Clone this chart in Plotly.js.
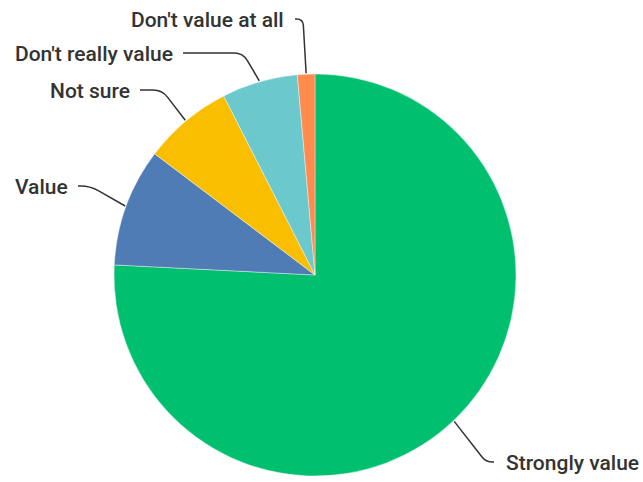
<!DOCTYPE html>
<html>
<head>
<meta charset="utf-8">
<script src="https://cdn.plot.ly/plotly-3.0.1.min.js"></script>
<style>html,body{margin:0;padding:0;background:#fff;}#chart{width:643px;height:482px;}</style>
</head>
<body>
<div id="chart"></div>
<script>
// ---- data ----
const labels = ["Strongly value", "Value", "Not sure", "Don't really value", "Don't value at all"];
const values = [75.8, 9.5, 7.2, 6.1, 1.4];

// ---- styles / layout ----
const sliceColors = ["#00BF6F", "#507CB6", "#F9BE00", "#6BC8CD", "#FF8B4F"];
const W = 643, H = 482;
const CX = 315, CY = 275, R = 201;
// label anchor (end of leader line, px) and length of the horizontal stub (px)
const leaderEnd = [[494, 462], [78, 186], [140, 90], [183, 53], [295, 19]];
const leaderStub = [8, 12, 22, 60, 8];
const textGap = [10, 8, 8, 8, 9];
const fontSpec = {family: "Roboto, 'Liberation Sans', sans-serif", size: 21, color: "#333333", weight: 500};

const trace = {
  type: "pie",
  labels: labels,
  values: values,
  sort: false,
  direction: "clockwise",
  rotation: 0,
  textinfo: "none",
  hoverinfo: "label+percent",
  showlegend: false,
  marker: {colors: sliceColors, line: {color: "#ffffff", width: 0.4}},
  domain: {x: [(CX - R) / W, (CX + R) / W], y: [1 - (CY + R) / H, 1 - (CY - R) / H]}
};

const layout = {
  width: W, height: H,
  margin: {l: 0, r: 0, t: 0, b: 0},
  paper_bgcolor: "#ffffff",
  showlegend: false
};

const px = x => x / W;
const py = y => 1 - y / H;

Plotly.newPlot("chart", [trace], layout, {displayModeBar: false, staticPlot: true}).then(gd => {
  let cx = CX, cy = CY, r = R;
  try {
    const cd0 = gd.calcdata[0][0];
    if (isFinite(cd0.cx) && isFinite(cd0.cy) && isFinite(cd0.r)) { cx = cd0.cx; cy = cd0.cy; r = cd0.r; }
  } catch (e) {}
  const total = values.reduce((a, b) => a + b, 0);
  let acc = 0;
  const shapes = [], annotations = [];
  values.forEach((v, i) => {
    const mid = (acc + v / 2) / total * 2 * Math.PI;
    acc += v;
    const dx = Math.sin(mid), dy = -Math.cos(mid);
    const ex = cx + dx * (r + 1), ey = cy + dy * (r + 1);
    const endx = leaderEnd[i][0], endy = leaderEnd[i][1];
    const side = endx >= ex ? 1 : -1;
    const elx = endx - side * leaderStub[i], ely = endy;
    // rounded corner
    const segLen = Math.hypot(elx - ex, ely - ey);
    const c = Math.min(9, segLen * 0.4, leaderStub[i] * 0.8);
    const ux = (elx - ex) / segLen, uy = (ely - ey) / segLen;
    const ax = elx - ux * c, ay = ely - uy * c;
    const bx = elx + side * c, by = ely;
    const path = `M ${px(ex)},${py(ey)} L ${px(ax)},${py(ay)} Q ${px(elx)},${py(ely)} ${px(bx)},${py(by)} L ${px(endx)},${py(endy)}`;
    shapes.push({type: "path", xref: "paper", yref: "paper", path: path,
      line: {color: "#333333", width: 1.5}});
    annotations.push({xref: "paper", yref: "paper", x: px(endx + side * textGap[i]), y: py(endy + 1),
      xanchor: side > 0 ? "left" : "right", yanchor: "middle", showarrow: false,
      text: labels[i], font: fontSpec});
  });
  return Plotly.relayout(gd, {shapes: shapes, annotations: annotations});
});
</script>
</body>
</html>
